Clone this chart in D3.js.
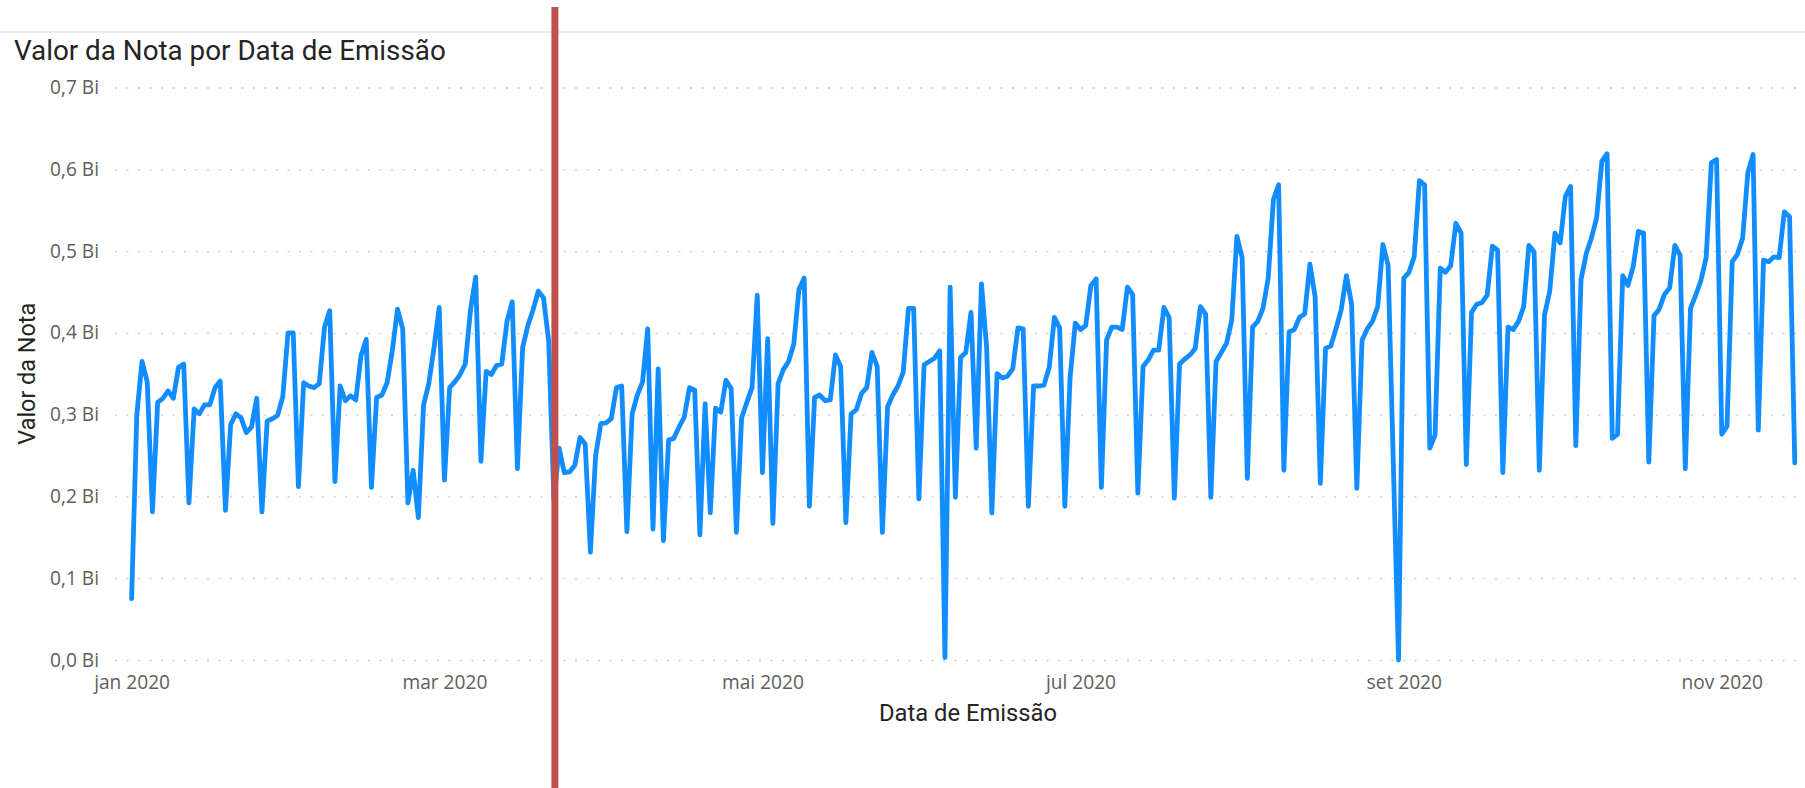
<!DOCTYPE html>
<html>
<head>
<meta charset="utf-8">
<script src="https://cdn.jsdelivr.net/npm/d3@7"></script>
<style>
  html, body { margin: 0; padding: 0; background: #fff; }
  svg { display: block; }
</style>
</head>
<body>
<script>
const W = 1805;
const H = 788;

// valores diários (Bi), a partir de 01/01/2020
const startDay = "2020-01-01";
const valores = [
  0.075, 0.300, 0.365, 0.340, 0.181,
  0.315, 0.320, 0.329, 0.320, 0.358, 0.362, 0.192,
  0.307, 0.301, 0.312, 0.312, 0.333, 0.341, 0.183,
  0.288, 0.301, 0.296, 0.278, 0.285, 0.320, 0.181,
  0.292, 0.295, 0.299, 0.322, 0.400, 0.400, 0.212,
  0.339, 0.335, 0.333, 0.338, 0.407, 0.427, 0.218,
  0.335, 0.317, 0.323, 0.318, 0.372, 0.392, 0.211,
  0.321, 0.324, 0.339, 0.378, 0.429, 0.405, 0.192,
  0.232, 0.174, 0.312, 0.338, 0.382, 0.431, 0.220,
  0.333, 0.340, 0.349, 0.362, 0.428, 0.468, 0.243,
  0.353, 0.349, 0.360, 0.362, 0.414, 0.438, 0.234,
  0.382, 0.409, 0.428, 0.451, 0.443, 0.390, 0.195,
  0.259, 0.229, 0.230, 0.238, 0.272, 0.264, 0.132,
  0.250, 0.289, 0.290, 0.295, 0.333, 0.335, 0.157,
  0.301, 0.324, 0.340, 0.405, 0.160, 0.356, 0.146,
  0.269, 0.271, 0.285, 0.297, 0.333, 0.330, 0.153,
  0.313, 0.180, 0.308, 0.303, 0.342, 0.332, 0.156,
  0.296, 0.315, 0.333, 0.446, 0.229, 0.393, 0.167,
  0.338, 0.355, 0.365, 0.386, 0.453, 0.467, 0.188,
  0.321, 0.324, 0.317, 0.318, 0.373, 0.359, 0.168,
  0.301, 0.306, 0.326, 0.333, 0.376, 0.359, 0.156,
  0.310, 0.324, 0.335, 0.352, 0.430, 0.430, 0.197,
  0.361, 0.365, 0.369, 0.378, 0.003, 0.456, 0.199,
  0.370, 0.376, 0.425, 0.259, 0.460, 0.382, 0.180,
  0.350, 0.345, 0.347, 0.356, 0.406, 0.405, 0.188,
  0.335, 0.335, 0.336, 0.358, 0.419, 0.406, 0.188,
  0.345, 0.412, 0.404, 0.409, 0.458, 0.466, 0.211,
  0.391, 0.407, 0.407, 0.404, 0.456, 0.447, 0.204,
  0.359, 0.367, 0.379, 0.379, 0.431, 0.419, 0.198,
  0.362, 0.368, 0.373, 0.381, 0.432, 0.423, 0.199,
  0.365, 0.376, 0.387, 0.415, 0.518, 0.492, 0.222,
  0.407, 0.414, 0.430, 0.467, 0.563, 0.581, 0.232,
  0.401, 0.404, 0.419, 0.423, 0.484, 0.444, 0.216,
  0.381, 0.384, 0.405, 0.428, 0.470, 0.435, 0.210,
  0.391, 0.405, 0.414, 0.432, 0.508, 0.483, 0.240,
  0.000, 0.467, 0.474, 0.493, 0.586, 0.581, 0.259,
  0.275, 0.479, 0.474, 0.482, 0.534, 0.522, 0.239,
  0.425, 0.435, 0.437, 0.446, 0.506, 0.501, 0.229,
  0.407, 0.404, 0.414, 0.432, 0.507, 0.499, 0.232,
  0.422, 0.451, 0.522, 0.510, 0.567, 0.579, 0.262,
  0.465, 0.497, 0.516, 0.541, 0.610, 0.619, 0.271,
  0.276, 0.470, 0.458, 0.481, 0.524, 0.522, 0.242,
  0.421, 0.429, 0.447, 0.455, 0.507, 0.495, 0.234,
  0.430, 0.446, 0.464, 0.492, 0.608, 0.612, 0.276,
  0.286, 0.487, 0.496, 0.516, 0.596, 0.618, 0.281,
  0.489, 0.487, 0.493, 0.492, 0.548, 0.542, 0.241
];

const tickMeses = ["2020-01-01", "2020-03-01", "2020-05-01", "2020-07-01", "2020-09-01", "2020-11-01"];
const tickRotulos = ["jan 2020", "mar 2020", "mai 2020", "jul 2020", "set 2020", "nov 2020"];
const yTicks = [0, 0.1, 0.2, 0.3, 0.4, 0.5, 0.6, 0.7];
const marcador = "2020-03-22"; // linha vermelha

const parse = d3.utcParse("%Y-%m-%d");
const t0 = parse(startDay);
const pontos = valores.map((v, i) => ({ date: d3.utcDay.offset(t0, i), v }));

const plot = { left: 115, right: W, top: 87.5, bottom: 660 };

const x = d3.scaleUtc()
  .domain([t0, parse("2020-11-16")])
  .range([131.6, 1800]);

const y = d3.scaleLinear()
  .domain([0, 0.7])
  .range([plot.bottom, plot.top]);

const fmtY = (d) => d3.format(".1f")(d).replace(".", ",") + " Bi";

// ajusta o tamanho da fonte para a largura medida na imagem
function fitWidth(sel, target) {
  const w = sel.node().getComputedTextLength();
  const fs = parseFloat(sel.attr("font-size"));
  sel.attr("font-size", (fs * target) / w);
  return fs * target / w;
}

const svg = d3.select("body")
  .append("svg")
  .attr("width", W)
  .attr("height", H);

svg.append("rect").attr("width", W).attr("height", H).attr("fill", "#fff");

// borda superior
svg.append("line")
  .attr("x1", 0).attr("x2", W)
  .attr("y1", 32).attr("y2", 32)
  .attr("stroke", "#d4d4d4")
  .attr("stroke-width", 1.2);

// título
const title = svg.append("text")
  .attr("x", 14)
  .attr("y", 60)
  .attr("font-family", "Roboto, 'DejaVu Sans Condensed', sans-serif")
  .attr("font-size", 24)
  .attr("fill", "#252423")
  .text("Valor da Nota por Data de Emissão");
fitWidth(title, 432);

// eixo y + grade
const yAxis = d3.axisLeft(y)
  .tickValues(yTicks)
  .tickFormat(fmtY)
  .tickSize(-(plot.right - plot.left))
  .tickPadding(16);

const gy = svg.append("g")
  .attr("transform", `translate(${plot.left},0)`)
  .call(yAxis);
gy.select(".domain").remove();
gy.selectAll(".tick line")
  .attr("stroke", "#c8c8c8")
  .attr("stroke-width", 1.3)
  .attr("stroke-dasharray", "2,9.5");
gy.selectAll(".tick text")
  .attr("fill", "#605e5c")
  .attr("font-family", "'Segoe UI', 'Open Sans', sans-serif");

// eixo x
const xAxis = d3.axisBottom(x)
  .tickValues(tickMeses.map(parse))
  .tickFormat((d, i) => tickRotulos[i])
  .tickSize(0)
  .tickPadding(15);

const gx = svg.append("g")
  .attr("transform", `translate(0,${plot.bottom})`)
  .call(xAxis);
gx.select(".domain").remove();
gx.selectAll(".tick text")
  .attr("fill", "#605e5c")
  .attr("font-family", "'Segoe UI', 'Open Sans', sans-serif");

// tamanho das fontes dos rótulos
const probe = svg.append("text")
  .attr("font-family", "'Segoe UI', 'Open Sans', sans-serif")
  .attr("font-size", 16)
  .text("jan 2020");
const tickFs = fitWidth(probe, 76);
probe.remove();
gx.attr("font-size", null).selectAll(".tick text").attr("font-size", tickFs);
gy.attr("font-size", null).selectAll(".tick text").attr("font-size", tickFs);

// títulos dos eixos
const xTitle = svg.append("text")
  .attr("x", 968)
  .attr("y", 721)
  .attr("text-anchor", "middle")
  .attr("font-family", "Roboto, 'DejaVu Sans Condensed', sans-serif")
  .attr("font-size", 20)
  .attr("fill", "#252423")
  .text("Data de Emissão");
fitWidth(xTitle, 178);

const yTitle = svg.append("text")
  .attr("transform", `translate(35,${(plot.top + plot.bottom) / 2}) rotate(-90)`)
  .attr("text-anchor", "middle")
  .attr("font-family", "Roboto, 'DejaVu Sans Condensed', sans-serif")
  .attr("font-size", 18)
  .attr("fill", "#252423")
  .text("Valor da Nota");
fitWidth(yTitle, 142);

// linha
svg.append("defs").append("clipPath")
  .attr("id", "clip")
  .append("rect")
  .attr("x", plot.left).attr("y", 0)
  .attr("width", plot.right - plot.left).attr("height", H);

const line = d3.line()
  .x((d) => x(d.date))
  .y((d) => y(d.v));

svg.append("path")
  .datum(pontos)
  .attr("clip-path", "url(#clip)")
  .attr("fill", "none")
  .attr("stroke", "#118dff")
  .attr("stroke-width", 4.8)
  .attr("stroke-linejoin", "round")
  .attr("stroke-linecap", "round")
  .attr("d", line);

// marcador vermelho
const xm = x(parse(marcador)) + 1;
svg.append("line")
  .attr("x1", xm).attr("x2", xm)
  .attr("y1", 7).attr("y2", H)
  .attr("stroke", "#c0504d")
  .attr("stroke-width", 7);
</script>
</body>
</html>
